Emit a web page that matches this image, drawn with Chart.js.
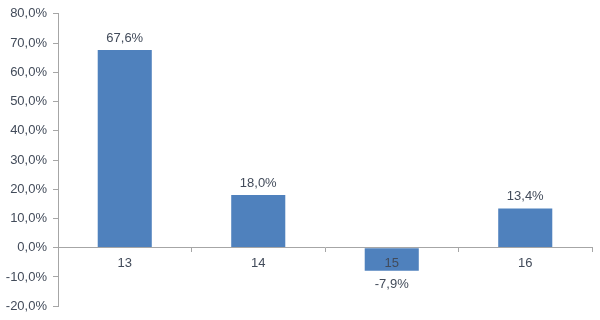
<!DOCTYPE html>
<html>
<head>
<meta charset="utf-8">
<script src="https://cdn.jsdelivr.net/npm/chart.js@4"></script>
<style>
html,body{margin:0;padding:0;background:#fff;}
#wrap{width:600px;height:320px;}
</style>
</head>
<body>
<div id="wrap"><canvas id="c" width="600" height="320"></canvas></div>
<script>
const categories = ['13', '14', '15', '16'];
const values = [67.6, 18.0, -7.9, 13.4];
const yTicks = [-20, -10, 0, 10, 20, 30, 40, 50, 60, 70, 80];

const fmt = v => v.toFixed(1).replace('.', ',') + '%';
const textColor = '#424b5a';
const axisColor = '#a6a6a6';
const fontFamily = '"Liberation Sans", Arial, sans-serif';

const valueLabels = {
  id: 'valueLabels',
  afterDatasetsDraw(chart) {
    const ctx = chart.ctx;
    const meta = chart.getDatasetMeta(0);
    ctx.save();
    ctx.font = '13px ' + fontFamily;
    ctx.fillStyle = textColor;
    ctx.textAlign = 'center';
    ctx.textBaseline = 'middle';
    meta.data.forEach((bar, i) => {
      const v = values[i];
      const y = v >= 0 ? bar.y - 12 : bar.y + 14;
      ctx.fillText(fmt(v), bar.x, y);
    });
    ctx.restore();
  }
};

new Chart(document.getElementById('c'), {
  type: 'bar',
  data: {
    labels: categories,
    datasets: [{
      data: values,
      backgroundColor: '#4f81bd',
      borderWidth: 0,
      barPercentage: 0.81,
      categoryPercentage: 0.5
    }]
  },
  options: {
    responsive: false,
    animation: false,
    layout: { padding: { top: 7, bottom: 6, right: 8, left: 0 } },
    plugins: { legend: { display: false }, tooltip: { enabled: false } },
    scales: {
      x: {
        position: { y: 0 },
        grid: { drawOnChartArea: false, drawTicks: true, tickLength: 4, color: axisColor, offset: true, z: 1 },
        border: { display: true, color: axisColor, width: 1, z: 1 },
        ticks: { color: textColor, font: { family: fontFamily, size: 13 }, padding: 4, z: 1 }
      },
      y: {
        min: -20,
        max: 80,
        afterBuildTicks: axis => { axis.ticks = yTicks.map(v => ({ value: v })); },
        afterFit: axis => { axis.width = 58; },
        grid: { drawOnChartArea: false, drawTicks: true, tickLength: 5, color: axisColor },
        border: { display: true, color: axisColor, width: 1 },
        ticks: { color: textColor, font: { family: fontFamily, size: 13 }, padding: 6, callback: v => fmt(v) }
      }
    }
  },
  plugins: [valueLabels]
});
</script>
</body>
</html>
